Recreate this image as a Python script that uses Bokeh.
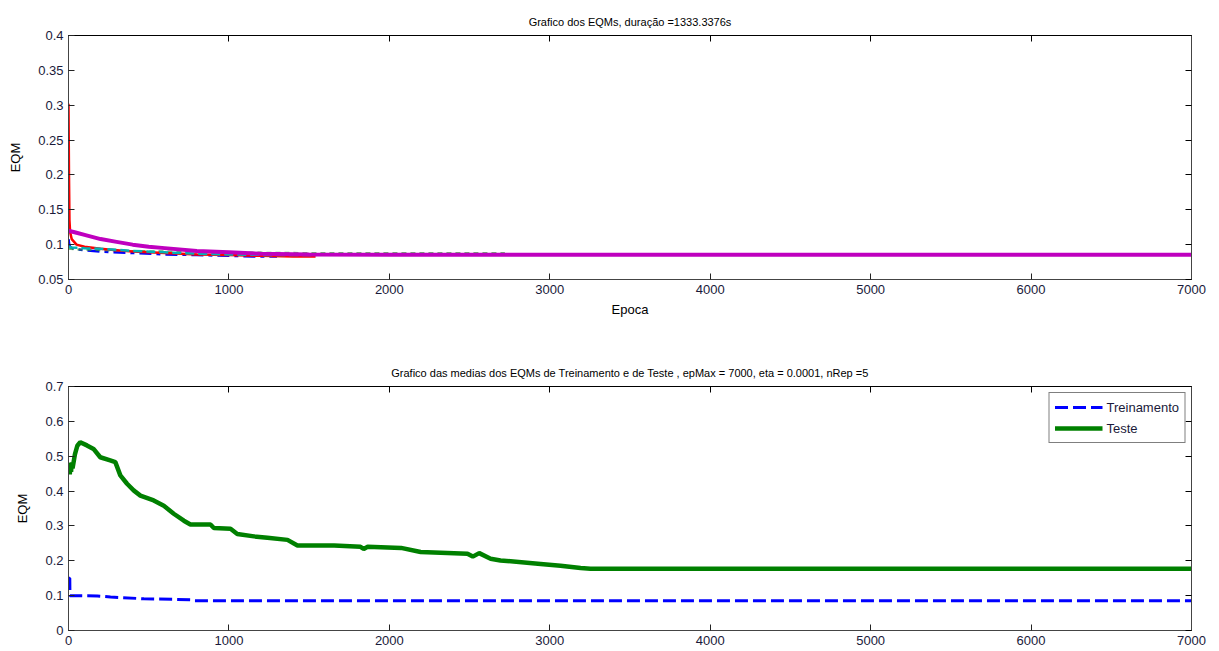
from bokeh.plotting import figure
from bokeh.layouts import column
from bokeh.models import (Range1d, FixedTicker, LinearAxis, CustomJSTickFormatter,
                          Legend, LegendItem)
from bokeh.embed import file_html
from bokeh.resources import INLINE

FONT = "Liberation Sans"

# ---------------- data: top chart (EQM per repetition) ----------------
rep1_epochs = [0, 5, 10, 30, 100, 200, 400, 600, 800, 1000, 1150, 1300]
rep1_eqm = [0.108, 0.100, 0.097, 0.094, 0.092, 0.090, 0.088, 0.086, 0.085, 0.084, 0.083, 0.083]

rep2_epochs = [0, 50, 200, 400, 700, 1000, 1500, 2000, 2720]
rep2_eqm = [0.094, 0.093, 0.092, 0.091, 0.090, 0.089, 0.088, 0.088, 0.088]

rep3_epochs = [0, 3, 6, 10, 20, 50, 100, 200, 300, 400, 600, 800, 1000, 1200, 1400, 1540]
rep3_eqm = [0.302, 0.20, 0.135, 0.118, 0.108, 0.100, 0.097, 0.094, 0.092, 0.090, 0.088, 0.086, 0.085, 0.084, 0.083, 0.083]

rep4_epochs = [0, 20, 100, 200, 400, 600, 800, 1000, 1300, 1545]
rep4_eqm = [0.097, 0.096, 0.095, 0.094, 0.091, 0.089, 0.087, 0.086, 0.085, 0.085]

rep5_epochs = [0, 50, 100, 200, 300, 400, 500, 600, 800, 1000, 1200, 1500, 2000, 3000, 7000]
rep5_eqm = [0.120, 0.117, 0.114, 0.108, 0.104, 0.100, 0.097, 0.095, 0.091, 0.089, 0.087, 0.086, 0.0855, 0.0855, 0.0855]

# ---------------- data: bottom chart (mean EQMs) ----------------
train_epochs = [0, 8, 9, 40, 180, 262, 470, 677, 760, 780, 7000]
train_eqm = [0.150, 0.150, 0.100, 0.100, 0.099, 0.096, 0.091, 0.089, 0.088, 0.085, 0.085]

test_epochs = [0, 4, 8, 12, 16, 20, 25, 30, 40, 55, 73, 115, 156, 198, 260, 292, 323, 365, 406,
               448, 531, 594, 656, 719, 760, 885, 906, 1010, 1052, 1156, 1240, 1365, 1427,
               1656, 1820, 1840, 1865, 2073, 2195, 2487, 2520, 2560, 2631, 2693, 2943,
               3067, 3192, 3254, 7000]
test_eqm = [0.450, 0.475, 0.448, 0.480, 0.455, 0.482, 0.465, 0.478, 0.505, 0.530, 0.540, 0.531,
            0.521, 0.497, 0.488, 0.483, 0.445, 0.421, 0.402, 0.387, 0.373, 0.358, 0.335,
            0.315, 0.304, 0.304, 0.294, 0.292, 0.277, 0.270, 0.266, 0.260, 0.244, 0.244,
            0.240, 0.234, 0.240, 0.237, 0.225, 0.220, 0.212, 0.222, 0.206, 0.201, 0.191,
            0.186, 0.179, 0.177, 0.177]

x_ticks = [0, 1000, 2000, 3000, 4000, 5000, 6000, 7000]
top_y_ticks = [0.05, 0.1, 0.15, 0.2, 0.25, 0.3, 0.35, 0.4]
bottom_y_ticks = [0, 0.1, 0.2, 0.3, 0.4, 0.5, 0.6, 0.7]

NUMFMT = "return String(Math.round(tick*1000)/1000);"


def style(p, yticks, xlabel=None):
    p.title.align = "center"
    p.title.text_font = FONT
    p.title.text_font_style = "normal"
    p.title.text_font_size = "11px"
    p.title.text_color = "black"
    p.title.standoff = 16
    p.outline_line_color = "black"
    p.outline_line_width = 1
    p.xgrid.visible = False
    p.ygrid.visible = False
    for ax, tk in ((p.xaxis[0], x_ticks), (p.yaxis[0], yticks)):
        ax.ticker = FixedTicker(ticks=tk)
        ax.formatter = CustomJSTickFormatter(code=NUMFMT)
        ax.major_tick_in = 6
        ax.major_tick_out = 0
        ax.minor_tick_line_color = None
        ax.axis_line_color = "#444444"
        ax.major_tick_line_color = "#222222"
        ax.major_label_text_font = FONT
        ax.major_label_text_font_size = "13px"
        ax.major_label_text_color = "#1a1a3a"
        ax.axis_label_text_font = FONT
        ax.axis_label_text_font_size = "13px"
        ax.axis_label_text_font_style = "normal"
        ax.axis_label_text_color = "black"
        ax.major_label_standoff = 5
    p.yaxis[0].axis_label = "EQM"
    p.yaxis[0].axis_label_standoff = 12
    if xlabel:
        p.xaxis[0].axis_label = xlabel
        p.xaxis[0].axis_label_standoff = 5
    # mirrored tick marks (MATLAB box style)
    top = LinearAxis(ticker=FixedTicker(ticks=x_ticks),
                     formatter=CustomJSTickFormatter(code="return '';"),
                     major_tick_in=6, major_tick_out=0, major_label_standoff=0,
                     minor_tick_line_color=None, axis_line_color="black",
                     major_label_text_font_size="0px")
    right = LinearAxis(ticker=FixedTicker(ticks=yticks),
                       formatter=CustomJSTickFormatter(code="return '';"),
                       major_tick_in=6, major_tick_out=0, major_label_standoff=0,
                       minor_tick_line_color=None, axis_line_color="#444444",
                       major_label_text_font_size="0px")
    p.add_layout(top, "above")
    p.add_layout(right, "right")


# ---------------- top figure ----------------
p1 = figure(width=1219, height=330, output_backend="svg", toolbar_location=None,
            x_range=Range1d(0, 7000), y_range=Range1d(0.05, 0.4),
            title="Grafico dos EQMs, duração =1333.3376s",
            min_border_left=68, min_border_right=28, min_border_top=35, min_border_bottom=51)
style(p1, top_y_ticks, "Epoca")

p1.line(rep1_epochs, rep1_eqm, color="#0000ff", line_width=2.5, line_dash="12 5 4 5")
p1.line(rep2_epochs, rep2_eqm, color="#2f9a2f", line_width=2, line_dash="5 4", alpha=0.7)
p1.line(rep3_epochs, rep3_eqm, color="#ff0000", line_width=2.5)
p1.line(rep4_epochs, rep4_eqm, color="#00b4b4", line_width=2.5, line_dash="9 4")
p1.line(rep5_epochs, rep5_eqm, color="#bf00bf", line_width=4)

# ---------------- bottom figure ----------------
p2 = figure(width=1219, height=321, output_backend="svg", toolbar_location=None,
            x_range=Range1d(0, 7000), y_range=Range1d(0, 0.7),
            title="Grafico das medias dos EQMs de Treinamento e de Teste , epMax = 7000, eta = 0.0001, nRep =5",
            min_border_left=68, min_border_right=28, min_border_top=56, min_border_bottom=21)
style(p2, bottom_y_ticks)

r_train = p2.line(train_epochs, train_eqm, color="#0000ff", line_width=3, line_dash="13 5")
r_test = p2.line(test_epochs, test_eqm, color="#008000", line_width=4.5)

legend = Legend(items=[LegendItem(label="Treinamento", renderers=[r_train]),
                       LegendItem(label="Teste", renderers=[r_test])],
                location="top_right")
legend.label_text_font = FONT
legend.label_text_font_size = "13px"
legend.label_text_color = "#1a1a3a"
legend.glyph_width = 48
legend.glyph_height = 18
legend.label_height = 18
legend.label_standoff = 4
legend.padding = 5
legend.spacing = 3
legend.margin = 6
legend.border_line_color = "black"
legend.border_line_width = 1
legend.background_fill_alpha = 1
p2.add_layout(legend, "center")

layout = column(p1, p2, spacing=0)
open("out.html", "w").write(file_html(layout, INLINE))
